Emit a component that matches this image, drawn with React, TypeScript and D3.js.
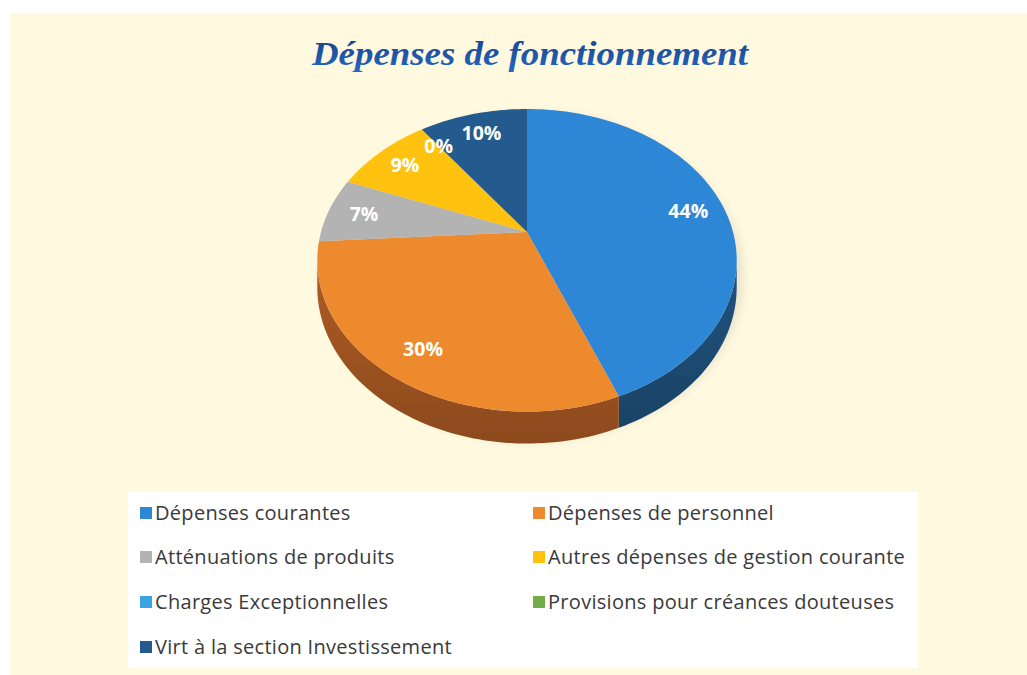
import React from "react";
import * as d3 from "d3";

const categories = [
  "Dépenses courantes",
  "Dépenses de personnel",
  "Atténuations de produits",
  "Autres dépenses de gestion courante",
  "Charges Exceptionnelles",
  "Provisions pour créances douteuses",
  "Virt à la section Investissement",
];
const values = [44, 30, 7, 9, 0, 0, 10];
const pctLabels = ["44%", "30%", "7%", "9%", "0%", "0%", "10%"];
const topColors = ["#2E86D6", "#EE8A2E", "#B3B3B3", "#FFC20E", "#3AA4E2", "#72AD48", "#245B8E"];
const sideColors = ["#1D4B72", "#9C5220", "#777777", "#A88000", "#1F6A94", "#4A7330", "#163A5C"];
const title = "Dépenses de fonctionnement";

const W = 1027;
const H = 675;

// perspective projection of the unit disk
const cx = 527, cy = 232, A = 206, B = 146, P = 0.187, DEPTH = 26;
function proj(u: number, v: number, down = 0): [number, number] {
  const w = 1 - P * v;
  return [cx + (A * u) / w, cy + (B * v) / w + down / w];
}
function rim(t: number, r = 1, down = 0) {
  return proj(r * Math.sin(t), -r * Math.cos(t), down);
}
function samples(a0: number, a1: number) {
  const n = Math.max(2, Math.ceil(((a1 - a0) / (2 * Math.PI)) * 240));
  const out: number[] = [];
  for (let i = 0; i <= n; i++) out.push(a0 + ((a1 - a0) * i) / n);
  return out;
}

const thetaL = Math.acos(-P);
const thetaR = 2 * Math.PI - thetaL;

export default function App() {
  const pie = d3.pie<number>().sort(null).value((d) => d);
  const arcs = pie(values);
  const line = d3.line();

  const sides = arcs.map((a, i) => {
    const s = Math.max(a.startAngle, thetaL);
    const e = Math.min(a.endAngle, thetaR);
    if (e <= s) return null;
    const ts = samples(s, e);
    const top = ts.map((t) => rim(t));
    const bot = ts.slice().reverse().map((t) => rim(t, 1, DEPTH));
    return { d: line([...top, ...bot])! + "Z", i };
  });

  const tops = arcs.map((a, i) => {
    if (a.endAngle - a.startAngle <= 0) return null;
    const pts = [[cx, cy] as [number, number], ...samples(a.startAngle, a.endAngle).map((t) => rim(t))];
    return { d: line(pts)! + "Z", i };
  });

  const labelPts = arcs.map((a) => rim((a.startAngle + a.endAngle) / 2, 0.82));

  const legendX = [140, 533];
  const legendY = [513, 557, 602, 647];

  return (
    <svg width={W} height={H} style={{ position: "absolute", left: 0, top: 0 }}>
      <defs>
        {sideColors.map((c, i) => (
          <linearGradient key={i} id={`sg${i}`} x1="0" y1="0" x2="0" y2="1">
            <stop offset="0" stopColor={d3.color(c)!.brighter(0.3).toString()} />
            <stop offset="1" stopColor={d3.color(c)!.darker(0.3).toString()} />
          </linearGradient>
        ))}
        <linearGradient id="tg" x1="0" y1="0" x2="0" y2="1">
          <stop offset="0" stopColor="#17408C" />
          <stop offset="1" stopColor="#2468C0" />
        </linearGradient>
        <filter id="blur" x="-20%" y="-20%" width="140%" height="140%">
          <feGaussianBlur stdDeviation="5" />
        </filter>
      </defs>
      <rect x={0} y={0} width={W} height={H} fill="#FFFFFF" />
      <rect x={10} y={13} width={W - 10} height={H - 13} fill="#FFF9E0" />
      <text
        x={530}
        y={65}
        textAnchor="middle"
        fontFamily="'Liberation Serif', serif"
        fontStyle="italic"
        fontWeight="bold"
        fontSize={34}
        textLength={436}
        lengthAdjust="spacingAndGlyphs"
        fill="url(#tg)"
      >
        {title}
      </text>

      {/* soft shadow */}
      <ellipse cx={cx + 5} cy={cy + 45} rx={212} ry={165} fill="#000" opacity={0.08} filter="url(#blur)" />

      {sides.map((s) => s && <path key={`s${s.i}`} d={s.d} fill={`url(#sg${s.i})`} />)}
      {tops.map((t) => t && <path key={`t${t.i}`} d={t.d} fill={topColors[t.i]} />)}

      {labelPts.map((p, i) =>
        i === 5 ? null : (
          <text
            key={`l${i}`}
            x={p[0]}
            y={p[1]}
            dy="0.38em"
            textAnchor="middle"
            fontFamily="'Open Sans', sans-serif"
            fontWeight="bold"
            fontSize={19.5}
            fill="#FFFFFF"
          >
            {pctLabels[i]}
          </text>
        )
      )}

      <rect x={128} y={492} width={790} height={176} fill="#FFFFFF" />
      {categories.map((c, i) => {
        const x = legendX[i % 2];
        const y = legendY[Math.floor(i / 2)];
        return (
          <g key={`lg${i}`}>
            <rect x={x} y={y - 6} width={12} height={12} fill={topColors[i]} />
            <text
              x={x + 15}
              y={y}
              dy="0.35em"
              fontFamily="'Open Sans', sans-serif"
              fontSize={20}
              letterSpacing={0.3}
              fill="#3A3A3A"
            >
              {c}
            </text>
          </g>
        );
      })}
    </svg>
  );
}
